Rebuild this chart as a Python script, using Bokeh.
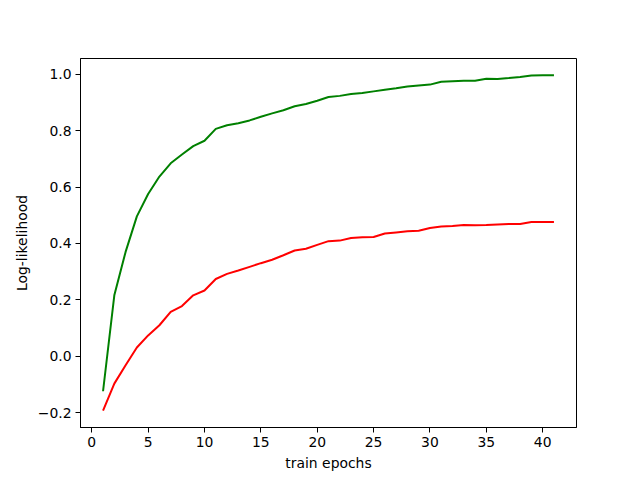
from bokeh.plotting import figure
from bokeh.models import FixedTicker, CustomJSTickFormatter, Range1d
from bokeh.embed import file_html
from bokeh.resources import INLINE

epochs = list(range(1, 42))
green_vals = [-0.124, 0.216, 0.37, 0.496, 0.575, 0.637, 0.684, 0.715, 0.745, 0.764,
              0.806, 0.819, 0.826, 0.836, 0.849, 0.861, 0.872, 0.886, 0.894, 0.906,
              0.919, 0.923, 0.930, 0.933, 0.939, 0.945, 0.950, 0.956, 0.960, 0.963,
              0.973, 0.975, 0.977, 0.977, 0.984, 0.983, 0.986, 0.990, 0.995, 0.996, 0.996]
red_vals = [-0.193, -0.097, -0.032, 0.031, 0.074, 0.110, 0.157, 0.178, 0.216, 0.233,
            0.274, 0.292, 0.304, 0.317, 0.330, 0.342, 0.358, 0.375, 0.381, 0.395,
            0.408, 0.410, 0.419, 0.422, 0.423, 0.435, 0.439, 0.443, 0.445, 0.455,
            0.460, 0.462, 0.465, 0.464, 0.465, 0.467, 0.469, 0.469, 0.476, 0.476, 0.476]
x_ticks = [0, 5, 10, 15, 20, 25, 30, 35, 40]
y_ticks = [-0.2, 0.0, 0.2, 0.4, 0.6, 0.8, 1.0]

p = figure(width=640, height=480, output_backend="svg", toolbar_location=None,
           x_range=Range1d(-1.0, 43.0), y_range=Range1d(-0.2525, 1.0555),
           min_border_left=80, min_border_right=64, min_border_top=58, min_border_bottom=53)

p.line(epochs, green_vals, line_color="green", line_width=2)
p.line(epochs, red_vals, line_color="red", line_width=2)

p.grid.visible = False
p.outline_line_color = "black"
p.outline_line_width = 1
p.background_fill_color = "white"
p.border_fill_color = "white"

p.xaxis.ticker = FixedTicker(ticks=x_ticks)
p.yaxis.ticker = FixedTicker(ticks=y_ticks)
p.yaxis.formatter = CustomJSTickFormatter(code="return tick.toFixed(1).replace('-', '\u2212');")
p.xaxis.formatter = CustomJSTickFormatter(code="return tick.toFixed(0);")

for ax in [p.xaxis[0], p.yaxis[0]]:
    ax.axis_line_color = "black"
    ax.major_tick_line_color = "black"
    ax.minor_tick_line_color = None
    ax.major_tick_in = 0
    ax.major_tick_out = 5
    ax.major_label_standoff = 4
    ax.major_label_text_font = "DejaVu Sans"
    ax.major_label_text_font_size = "13.9px"
    ax.major_label_text_color = "black"
    ax.axis_label_text_font = "DejaVu Sans"
    ax.axis_label_text_font_size = "13.9px"
    ax.axis_label_text_font_style = "normal"
    ax.axis_label_text_color = "black"

p.xaxis.axis_label = "train epochs"
p.yaxis.axis_label = "Log-likelihood"
p.xaxis.axis_label_standoff = 5
p.yaxis.axis_label_standoff = 5

open("out.html", "w").write(file_html(p, INLINE))
